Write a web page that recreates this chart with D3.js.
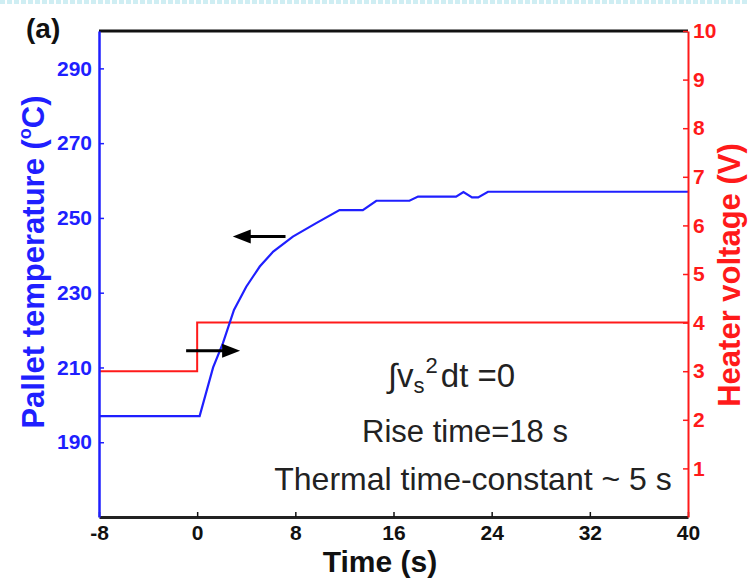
<!DOCTYPE html>
<html>
<head>
<meta charset="utf-8">
<script src="https://cdn.jsdelivr.net/npm/d3@7"></script>
<style>
  body { margin: 0; background: #fff; }
  text { font-family: "Liberation Sans", Arial, sans-serif; }
</style>
</head>
<body>
<div id="container"></div>
<script>
const width = 749;
const height = 580;
const margin = {top: 31, right: 61, bottom: 63, left: 99};

// pallet temperature (deg C) vs time (s)
const tempTime = [-8, 0, 0.2, 1.3, 2.1, 3.0, 4.0, 5.1, 6.2, 7.8, 9.7, 11.6, 13.5, 14.6, 17.3, 18.0, 21.1, 21.7, 22.4, 22.9, 23.7, 40];
const tempValue = [197, 197, 197, 210, 216.5, 225.4, 231.6, 237, 241, 245, 248.6, 252.1, 252.1, 254.6, 254.6, 255.7, 255.7, 256.9, 255.5, 255.5, 257, 257];
// heater voltage (V) step
const voltTime = [-8, 0, 0, 40];
const voltValue = [3, 3, 4, 4];

const xTicks = [-8, 0, 8, 16, 24, 32, 40];
const tempTicks = [190, 210, 230, 250, 270, 290];
const voltTicks = [1, 2, 3, 4, 5, 6, 7, 8, 9, 10];

const blue = "#1f1fff";
const red = "#ff1a1a";
const font = "Liberation Sans, Arial, sans-serif";

const svg = d3.select("#container").append("svg")
  .attr("width", width)
  .attr("height", height);

// decorative strip at the top of the picture
svg.append("line")
  .attr("x1", 0).attr("x2", width)
  .attr("y1", 2).attr("y2", 2)
  .attr("stroke", "#cfeef3")
  .attr("stroke-width", 4)
  .attr("stroke-dasharray", "5,2");

const x = d3.scaleLinear().domain([-8, 40]).range([margin.left, width - margin.right]);
const yT = d3.scaleLinear().domain([170, 300]).range([height - margin.bottom, margin.top]);
const yV = d3.scaleLinear().domain([0, 10]).range([height - margin.bottom, margin.top]);

// top border
svg.append("line")
  .attr("x1", x(-8)).attr("x2", x(40))
  .attr("y1", margin.top).attr("y2", margin.top)
  .attr("stroke", "#111")
  .attr("stroke-width", 3);

// heater voltage
const voltLine = d3.line().x((d, i) => x(voltTime[i])).y(d => yV(d));
svg.append("path")
  .attr("d", voltLine(voltValue))
  .attr("fill", "none")
  .attr("stroke", red)
  .attr("stroke-width", 2);

// temperature
const tempLine = d3.line().x((d, i) => x(tempTime[i])).y(d => yT(d));
svg.append("path")
  .attr("d", tempLine(tempValue))
  .attr("fill", "none")
  .attr("stroke", blue)
  .attr("stroke-width", 2.2);

// axes
function styleTicks(g, color) {
  g.selectAll(".tick line").attr("stroke", color).attr("stroke-width", 1.5);
  g.selectAll(".tick text")
    .attr("fill", color)
    .attr("font-size", 21)
    .attr("font-weight", "bold")
    .attr("font-family", font);
}

const xAxis = svg.append("g")
  .attr("transform", `translate(0,${height - margin.bottom})`)
  .call(d3.axisBottom(x).tickValues(xTicks).tickFormat(d => String(d))
    .tickSizeInner(-5).tickSizeOuter(0).tickPadding(8));
xAxis.select(".domain").attr("stroke", "#222").attr("stroke-width", 3);
styleTicks(xAxis, "#111");

const yAxisL = svg.append("g")
  .attr("transform", `translate(${margin.left},0)`)
  .call(d3.axisLeft(yT).tickValues(tempTicks).tickSizeInner(-5).tickSizeOuter(0).tickPadding(7));
yAxisL.select(".domain").attr("stroke", blue).attr("stroke-width", 2.5);
styleTicks(yAxisL, blue);

const yAxisR = svg.append("g")
  .attr("transform", `translate(${width - margin.right},0)`)
  .call(d3.axisRight(yV).tickValues(voltTicks).tickSizeInner(-5).tickSizeOuter(0).tickPadding(5));
yAxisR.select(".domain").attr("stroke", red).attr("stroke-width", 2);
styleTicks(yAxisR, red);

// axis titles
svg.append("text")
  .text("Time (s)")
  .attr("x", 380).attr("y", 572)
  .attr("text-anchor", "middle")
  .attr("font-size", 30)
  .attr("font-weight", "bold")
  .attr("fill", "#111");

const tl = svg.append("text")
  .attr("transform", "translate(44,262) rotate(-90)")
  .attr("text-anchor", "middle")
  .attr("font-size", 31)
  .attr("font-weight", "bold")
  .attr("fill", blue);
tl.append("tspan").text("Pallet temperature (");
tl.append("tspan").text("o").attr("font-size", 18).attr("dy", -13);
tl.append("tspan").text("C)").attr("dy", 13);

svg.append("text")
  .text("Heater voltage (V)")
  .attr("transform", "translate(740,275) rotate(-90)")
  .attr("text-anchor", "middle")
  .attr("font-size", 31)
  .attr("font-weight", "bold")
  .attr("fill", red);

svg.append("text")
  .text("(a)")
  .attr("x", 26).attr("y", 38)
  .attr("font-size", 28)
  .attr("font-weight", "bold")
  .attr("fill", "#111");

// arrows pointing to the matching axis
const arrows = [
  {x1: 7.2, x2: 2.9, y: yT(245)},
  {x1: -0.9, x2: 3.5, y: yT(214.5)}
];
arrows.forEach(a => {
  const dir = a.x2 > a.x1 ? 1 : -1;
  const xe = x(a.x2);
  svg.append("line")
    .attr("x1", x(a.x1)).attr("x2", xe - dir * 10)
    .attr("y1", a.y).attr("y2", a.y)
    .attr("stroke", "#000")
    .attr("stroke-width", 3);
  svg.append("path")
    .attr("d", `M${xe},${a.y} L${xe - dir * 18},${a.y - 7} L${xe - dir * 18},${a.y + 7} Z`)
    .attr("fill", "#000");
});

// annotations
const ann = svg.append("text")
  .attr("x", 388).attr("y", 387)
  .attr("font-size", 33)
  .attr("fill", "#222");
ann.append("tspan").text("\u222Bv");
ann.append("tspan").text("s").attr("font-size", 22).attr("dy", 6);
ann.append("tspan").text("2").attr("font-size", 22).attr("dy", -20).attr("dx", 1);
ann.append("tspan").text("dt =0").attr("dy", 14).attr("dx", 3);

svg.append("text")
  .text("Rise time=18 s")
  .attr("x", 465).attr("y", 442)
  .attr("text-anchor", "middle")
  .attr("font-size", 31)
  .attr("fill", "#222");

svg.append("text")
  .text("Thermal time-constant ~ 5 s")
  .attr("x", 473).attr("y", 490)
  .attr("text-anchor", "middle")
  .attr("font-size", 32)
  .attr("fill", "#222");
</script>
</body>
</html>
